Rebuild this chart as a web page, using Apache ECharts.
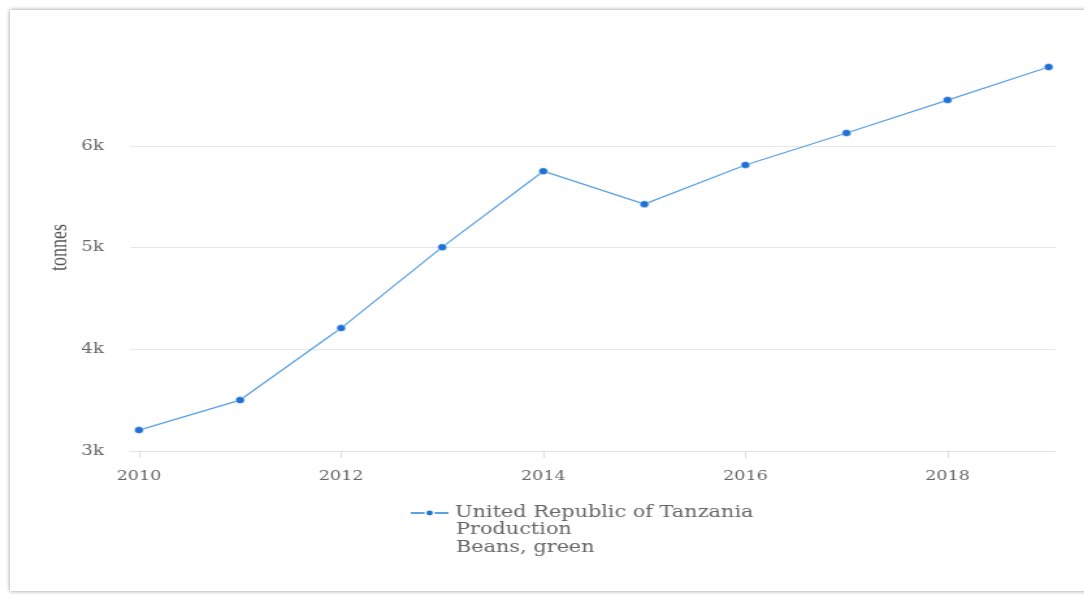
<!DOCTYPE html>
<html>
<head>
<meta charset="utf-8">
<script src="https://cdn.jsdelivr.net/npm/echarts@6/dist/echarts.min.js"></script>
<style>
  html, body { margin: 0; padding: 0; background: #fff; overflow: hidden; }
  #card { position: absolute; left: 10px; top: 10px; width: 1080px; height: 581px;
          box-shadow: 0 0 4px rgba(0,0,0,0.45); background: #fff; }
  /* the reference is stretched sideways, so draw narrow and widen */
  #chart { position: absolute; left: 0; top: 0; width: 834px; height: 596px;
           transform: scaleX(1.3); transform-origin: 0 0; }
</style>
</head>
<body>
<div id="card"></div>
<div id="chart"></div>
<script>
// data
var years = [2010, 2011, 2012, 2013, 2014, 2015, 2016, 2017, 2018, 2019];
var production = [3206, 3501, 4209, 5005, 5752, 5428, 5813, 6128, 6452, 6777];
var yearTicks = [2010, 2012, 2014, 2016, 2018];
var seriesName = 'United Republic of Tanzania\nProduction\nBeans, green';

function createLine(id) {
	var pts = [];
	for (var i in years) {
		pts.push([years[i], production[i]]);
	}
	var nameLines = seriesName.split('\n');

	var chart = echarts.init(document.getElementById(id));
	chart.setOption({
		animation: false,
		textStyle: { fontFamily: 'DejaVu Serif' },
		grid: { left: 100, right: 22, top: 146, bottom: 145 },
		legend: {
			left: 310,
			top: 499,
			itemWidth: 29,
			itemHeight: 8,
			itemStyle: { borderColor: '#fff', borderWidth: 1.5 },
			// first line beside the icon, the rest goes below as graphic text
			formatter: function (name) { return name.split('\n')[0]; },
			textStyle: { color: '#666', fontSize: 16, lineHeight: 18, fontFamily: 'DejaVu Serif' },
			data: [seriesName]
		},
		graphic: [{
			type: 'text',
			left: 350.8,
			top: 521,
			style: {
				text: nameLines.slice(1).join('\n'),
				fill: '#666',
				font: '16px "DejaVu Serif"',
				lineHeight: 18
			}
		}],
		xAxis: {
			type: 'value',
			min: 2009.911,
			max: 2019.069,
			splitLine: { show: false },
			axisLine: { lineStyle: { color: '#e3e3e3', width: 1 } },
			axisTick: { show: true, customValues: yearTicks, length: 7, lineStyle: { color: '#dcdcdc' } },
			axisLabel: { customValues: yearTicks, color: '#666', fontSize: 13.5, margin: 18,
				formatter: function (v) { return String(v); } }
		},
		yAxis: {
			type: 'value',
			min: 3000,
			max: 6000,
			interval: 1000,
			name: 'tonnes',
			nameLocation: 'middle',
			nameGap: 45,
			nameMoveOverlap: false,
			nameTextStyle: { color: '#555', fontSize: 18, fontFamily: 'Liberation Serif',
				padding: [0, 0, 0, 102] },
			axisLine: { show: false },
			axisTick: { show: false },
			axisLabel: { color: '#666', fontSize: 14, margin: 20,
				formatter: function (v) { return (v / 1000) + 'k'; } },
			splitLine: { lineStyle: { color: '#e8e8e8' } }
		},
		series: [{
			name: seriesName,
			type: 'line',
			clip: false,
			data: pts,
			symbol: 'circle',
			symbolSize: 7,
			lineStyle: { color: '#5aa2e6', width: 1.3 },
			itemStyle: { color: '#1f72d4', borderColor: '#fff', borderWidth: 0.5 }
		}]
	});
}

createLine('chart');
</script>
</body>
</html>
